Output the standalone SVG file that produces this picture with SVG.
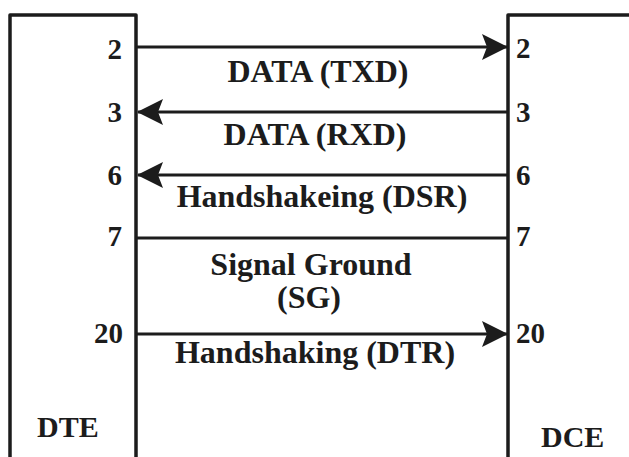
<svg xmlns="http://www.w3.org/2000/svg" width="629" height="457" viewBox="0 0 629 457">
  <style>
    .box { fill: none; stroke: #1c1c1c; stroke-width: 3.5; stroke-linejoin: round; }
    .wire { fill: none; stroke: #1c1c1c; stroke-width: 3; }
    .lbl { font-family: "Liberation Serif", "Times New Roman", serif; font-weight: bold; fill: #1c1c1c; }
    .pin { font-size: 29px; }
    .sig { font-size: 32px; text-anchor: middle; }
    .name { font-size: 30px; }
  </style>
  <defs>
    <marker id="arrow" viewBox="0 0 26 26" refX="25" refY="13" markerWidth="26" markerHeight="26" markerUnits="userSpaceOnUse" orient="auto">
      <path d="M0,0 L26,13 L0,26 L5,13 Z" fill="#1c1c1c"/>
    </marker>
  </defs>

  <rect width="629" height="457" fill="#ffffff"/>

  <!-- DTE side -->
  <g id="dte">
    <path class="box" d="M10,462 V15 H136 V462"/>
    <text class="lbl name" x="37" y="437">DTE</text>
    <g class="lbl pin" text-anchor="end">
      <text x="122" y="59">2</text>
      <text x="122" y="122">3</text>
      <text x="122" y="185">6</text>
      <text x="122" y="246">7</text>
      <text x="123" y="343">20</text>
    </g>
  </g>

  <!-- DCE side -->
  <g id="dce">
    <path class="box" d="M508,462 V15 H634"/>
    <text class="lbl name" x="541" y="447">DCE</text>
    <g class="lbl pin">
      <text x="516" y="58">2</text>
      <text x="516" y="122">3</text>
      <text x="516" y="185">6</text>
      <text x="516" y="246">7</text>
      <text x="516" y="343">20</text>
    </g>
  </g>

  <!-- signal wires -->
  <g id="connectors">
    <line class="wire" x1="137" y1="47" x2="507" y2="47" marker-end="url(#arrow)"/>
    <line class="wire" x1="507" y1="112" x2="138" y2="112" marker-end="url(#arrow)"/>
    <line class="wire" x1="507" y1="175" x2="138" y2="175" marker-end="url(#arrow)"/>
    <line class="wire" x1="137" y1="238" x2="507" y2="238"/>
    <line class="wire" x1="137" y1="334" x2="507" y2="334" marker-end="url(#arrow)"/>
  </g>

  <!-- signal names -->
  <g id="labels" class="lbl sig">
    <text x="318" y="82">DATA (TXD)</text>
    <text x="315" y="145">DATA (RXD)</text>
    <text x="322" y="207">Handshakeing (DSR)</text>
    <text x="311" y="275">Signal Ground</text>
    <text x="309" y="308">(SG)</text>
    <text x="315" y="363">Handshaking (DTR)</text>
  </g>
</svg>
